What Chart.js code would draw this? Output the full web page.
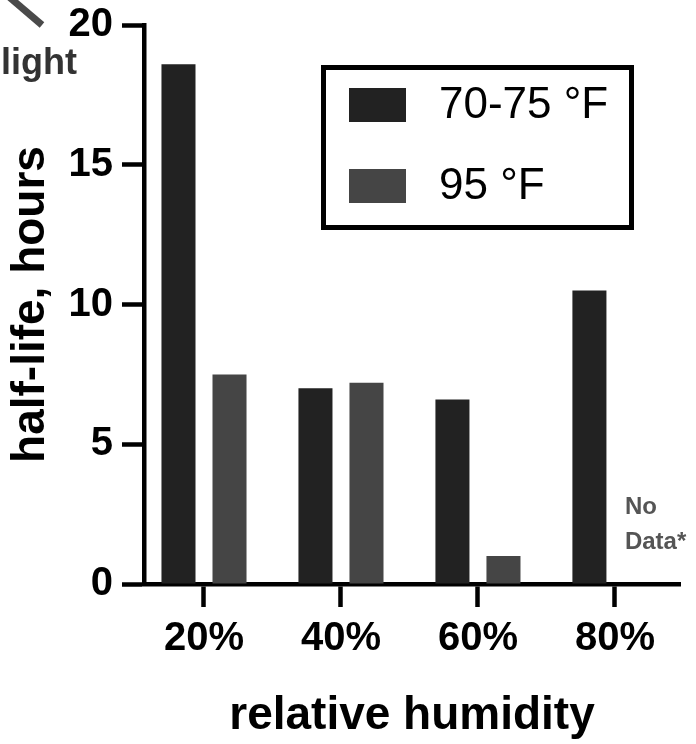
<!DOCTYPE html>
<html>
<head>
<meta charset="utf-8">
<title>half-life vs relative humidity</title>
<script src="https://cdn.jsdelivr.net/npm/chart.js@4.4.0/dist/chart.umd.min.js"></script>
<style>
  body { margin: 0; background: #fff; }
  #chart { display: block; }
</style>
</head>
<body>
<canvas id="chart" width="696" height="744"></canvas>
<script>
// data
const humidity = [20, 40, 60, 80];
const humidityLabels = ['20%', '40%', '60%', '80%'];
const seriesNames = ['70-75 °F', '95 °F'];
const halfLifeRoom = [18.6, 7.0, 6.6, 10.5];
const halfLifeHot = [7.5, 7.2, 1.0, null];
const yTicks = [0, 5, 10, 15, 20];

const darkBar = '#222222';
const grayBar = '#454545';
const fontFamily = '"Liberation Sans", Arial, sans-serif';

Chart.defaults.font.family = fontFamily;
Chart.defaults.color = '#000';

const toPoints = (vals) => humidity.map((h, i) => ({ x: h, y: vals[i] }));

// legend box, "No Data*" note and the cropped "light" label
const notes = {
  id: 'notes',
  afterDraw(chart) {
    const ctx = chart.ctx;
    ctx.save();
    ctx.lineWidth = 5;
    ctx.strokeStyle = '#000';
    ctx.strokeRect(323.5, 67.5, 308, 160);
    ctx.textBaseline = 'middle';
    ctx.font = '44px ' + fontFamily;
    chart.data.datasets.forEach((ds, i) => {
      const y = 88 + i * 81;
      ctx.fillStyle = ds.backgroundColor;
      ctx.fillRect(349, y, 57, 34);
      ctx.fillStyle = '#000';
      ctx.fillText(ds.label, 439, y + 18);
    });

    const xs = chart.scales.x;
    const nx = xs.getPixelForValue(80) + 10;
    ctx.fillStyle = '#555';
    ctx.font = 'bold 24px ' + fontFamily;
    ctx.textBaseline = 'alphabetic';
    ctx.fillText('No', nx, 514);
    ctx.fillText('Data*', nx, 549);

    ctx.fillStyle = '#333';
    ctx.font = 'bold 36px ' + fontFamily;
    ctx.fillText('light', 1, 74);
    ctx.strokeStyle = '#4a4a4a';
    ctx.lineWidth = 7;
    ctx.beginPath();
    ctx.moveTo(8, -4);
    ctx.lineTo(42, 25);
    ctx.stroke();
    ctx.restore();
  }
};

new Chart(document.getElementById('chart'), {
  type: 'bar',
  data: {
    datasets: [
      { label: seriesNames[0], data: toPoints(halfLifeRoom), backgroundColor: darkBar },
      { label: seriesNames[1], data: toPoints(halfLifeHot), backgroundColor: grayBar }
    ]
  },
  options: {
    responsive: false,
    animation: false,
    categoryPercentage: 0.745,
    barPercentage: 0.667,
    layout: { padding: { top: 17, right: 16, bottom: 0, left: 0 } },
    plugins: { legend: { display: false }, tooltip: { enabled: false } },
    scales: {
      x: {
        type: 'linear',
        offset: false,
        min: 11.24,
        max: 89.5,
        afterBuildTicks(scale) { scale.ticks = humidity.map(v => ({ value: v })); },
        afterFit(scale) { scale.height = 160; },
        ticks: {
          callback: (v) => humidityLabels[humidity.indexOf(v)],
          font: { size: 40, weight: 'bold' },
          padding: 8,
          maxRotation: 0,
          autoSkip: false
        },
        grid: { offset: false, drawOnChartArea: false, tickLength: 23, tickWidth: 4.5, tickColor: '#000' },
        border: { width: 4.5, color: '#000' },
        title: {
          display: true,
          text: 'relative humidity',
          font: { size: 46, weight: 'bold' },
          padding: { top: 0, bottom: 0 }
        }
      },
      y: {
        min: 0,
        max: 20,
        afterBuildTicks(scale) { scale.ticks = yTicks.map(v => ({ value: v })); },
        afterFit(scale) { scale.width = 144; },
        ticks: { font: { size: 40, weight: 'bold', lineHeight: 0.8 }, padding: 9 },
        grid: { drawOnChartArea: false, tickLength: 22, tickWidth: 4.5, tickColor: '#000' },
        border: { width: 4.5, color: '#000' },
        title: {
          display: true,
          text: 'half-life, hours',
          font: { size: 46, weight: 'bold' },
          padding: { top: 4, bottom: 0 }
        }
      }
    }
  },
  plugins: [notes]
});
</script>
</body>
</html>
